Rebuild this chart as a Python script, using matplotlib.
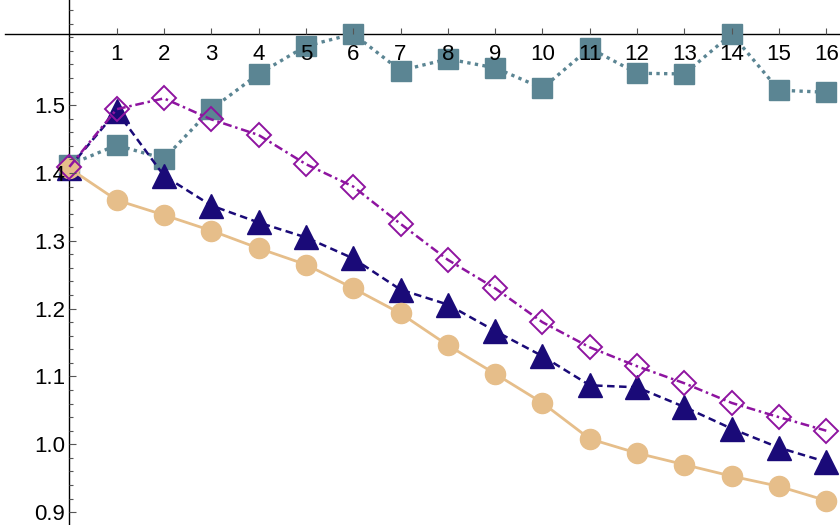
import numpy as np
import matplotlib
matplotlib.use('Agg')
from matplotlib import pyplot as plt
from matplotlib.ticker import FixedLocator

plt.rcParams['font.family'] = ['Liberation Sans', 'DejaVu Sans']

x = np.arange(0, 17)

# series values
squares = [1.412, 1.441, 1.421, 1.494, 1.546, 1.587, 1.605, 1.551, 1.568,
           1.555, 1.525, 1.584, 1.547, 1.546, 1.605, 1.522, 1.519]
triangles = [1.408, 1.491, 1.396, 1.352, 1.327, 1.305, 1.274, 1.228, 1.206,
             1.167, 1.130, 1.087, 1.084, 1.055, 1.023, 0.995, 0.974]
circles = [1.407, 1.360, 1.338, 1.315, 1.289, 1.265, 1.230, 1.193, 1.146,
           1.104, 1.061, 1.008, 0.987, 0.970, 0.953, 0.938, 0.917]
diamonds = [1.409, 1.494, 1.510, 1.479, 1.456, 1.413, 1.380, 1.325, 1.272,
            1.230, 1.180, 1.143, 1.115, 1.090, 1.061, 1.040, 1.020]

x_ticks = list(range(1, 17))
y_ticks = [0.9, 1.0, 1.1, 1.2, 1.3, 1.4, 1.5]

fig = plt.figure(figsize=(8.4, 5.25), dpi=100)
ax = fig.add_axes([5 / 840, 0, 835 / 840, 1])

ax.plot(x, squares, color='#5b8593', ls=(0, (1.0, 1.3)), lw=2.4,
        marker='s', ms=14.5, mec='#5b8593', zorder=2)
ax.plot(x, triangles, color='#1a0a78', ls=(0, (3, 1.8)), lw=1.8,
        marker='^', ms=17, mec='#1a0a78', zorder=2.1)
ax.plot(x, circles, color='#e6be8a', ls='-', lw=2.0,
        marker='o', ms=14.5, mec='#e6be8a', zorder=2.2)
ax.plot(x, diamonds, color='#8e14a0', ls=(0, (3.5, 1.5, 1, 1.5)), lw=1.8,
        marker='D', ms=12.5, mfc='none', mec='#8e14a0', mew=1.4, zorder=2.3)

ax.set_xlim(-1.36, 16.29)
ax.set_ylim(0.881, 1.655)

ax.spines['top'].set_visible(False)
ax.spines['right'].set_visible(False)
ax.spines['bottom'].set_position(('data', 1.605))
ax.spines['left'].set_position(('data', 0))
for s in ('bottom', 'left'):
    ax.spines[s].set_zorder(1)
    ax.spines[s].set_linewidth(1.0)

ax.set_axisbelow(False)
ax.xaxis.set_major_locator(FixedLocator(x_ticks))
ax.yaxis.set_major_locator(FixedLocator(y_ticks))
minor = [round(v, 2) for v in np.arange(0.88, 1.66, 0.02)]
minor = [v for v in minor if not any(abs(v - t) < 1e-6 for t in y_ticks)]
ax.yaxis.set_minor_locator(FixedLocator(minor))
ax.set_xticklabels([str(t) for t in x_ticks])
ax.set_yticklabels(['%.1f' % t for t in y_ticks])

ax.tick_params(axis='x', direction='in', length=4.5, width=0.8, pad=7,
               labelsize=16, color='#555555')
ax.tick_params(axis='y', which='major', direction='in', length=5, width=0.8,
               pad=3, labelsize=16, color='#555555')
ax.tick_params(axis='y', which='minor', direction='in', length=3, width=0.8,
               color='#555555')

fig.savefig('out.png', dpi=100)
